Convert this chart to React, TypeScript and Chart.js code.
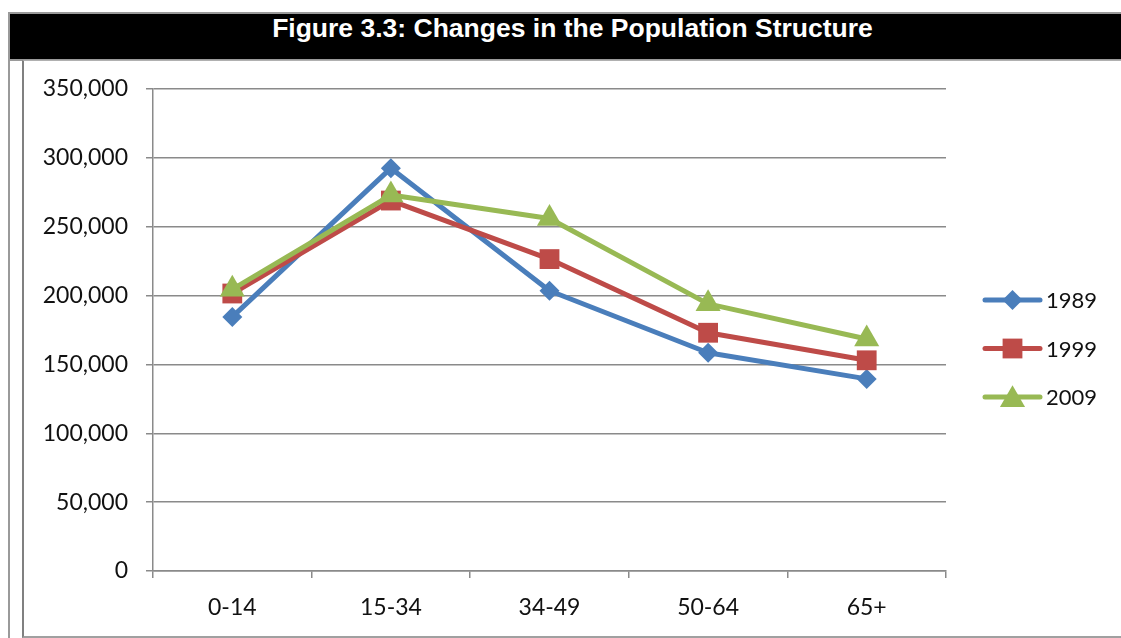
import React, { useEffect, useRef } from 'react';
import { Chart, registerables } from 'chart.js';

Chart.register(...registerables);

const titleText = 'Figure 3.3: Changes in the Population Structure';
const categories = ['0-14', '15-34', '34-49', '50-64', '65+'];
const seriesNames = ['1989', '1999', '2009'];
const values1989 = [184500, 292500, 203500, 158500, 139500];
const values1999 = [201500, 269000, 226500, 173000, 153000];
const values2009 = [204500, 273000, 256000, 194000, 168500];
const yMin = 0;
const yMax = 350000;
const yStep = 50000;

const colors = ['#4A7EBB', '#BE4B48', '#98B954'];
const pointStyles = ['rectRot', 'rect', 'triangle'];
const pointRadii = [10, 14, 14.5];

const FONT = 'Lato, "Open Sans", sans-serif';

function drawMarker(ctx: CanvasRenderingContext2D, style: string, x: number, y: number, r: number) {
  ctx.beginPath();
  if (style === 'rectRot') {
    ctx.moveTo(x, y - r);
    ctx.lineTo(x + r, y);
    ctx.lineTo(x, y + r);
    ctx.lineTo(x - r, y);
  } else if (style === 'rect') {
    const s = r * Math.SQRT1_2;
    ctx.rect(x - s, y - s, 2 * s, 2 * s);
  } else {
    const w = r * Math.sqrt(3) / 2;
    const h = 1.5 * r;
    ctx.moveTo(x, y - h / 2 - 1);
    ctx.lineTo(x + w, y + h / 2 - 1);
    ctx.lineTo(x - w, y + h / 2 - 1);
  }
  ctx.closePath();
  ctx.fill();
}

const legendPlugin = {
  id: 'customLegend',
  afterDraw(chart: any) {
    const { ctx, chartArea } = chart;
    ctx.save();
    chart.data.datasets.forEach((ds: any, i: number) => {
      const y = chartArea.top + 211 + i * 48.5;
      const x0 = chartArea.right + 39;
      const x1 = chartArea.right + 94;
      ctx.strokeStyle = ds.borderColor;
      ctx.fillStyle = ds.borderColor;
      ctx.lineWidth = 5;
      ctx.lineCap = 'round';
      ctx.beginPath();
      ctx.moveTo(x0, y);
      ctx.lineTo(x1, y);
      ctx.stroke();
      drawMarker(ctx, ds.pointStyle, (x0 + x1) / 2, y, ds.pointRadius);
      ctx.fillStyle = '#111';
      ctx.font = `22px ${FONT}`;
      ctx.textAlign = 'left';
      ctx.textBaseline = 'middle';
      ctx.fillText(ds.label, chartArea.right + 100, y + 1);
    });
    ctx.restore();
  },
};

function ChartCanvas() {
  const ref = useRef<HTMLCanvasElement | null>(null);
  useEffect(() => {
    if (!ref.current) return;
    const seriesValues = [values1989, values1999, values2009];
    const chart = new Chart(ref.current, {
      type: 'line',
      data: {
        labels: categories,
        datasets: seriesNames.map((name, i) => ({
          label: name,
          data: seriesValues[i],
          order: seriesNames.length - i,
          borderColor: colors[i],
          backgroundColor: colors[i],
          pointBackgroundColor: colors[i],
          pointBorderColor: colors[i],
          pointStyle: pointStyles[i] as any,
          pointRadius: pointRadii[i],
          pointBorderWidth: 0,
          borderWidth: 5,
          borderCapStyle: 'round',
          borderJoinStyle: 'round',
          tension: 0,
          fill: false,
        })),
      },
      options: {
        responsive: false,
        animation: false,
        layout: { padding: { top: 27, right: 175, left: 0, bottom: 0 } },
        plugins: {
          legend: { display: false },
          title: { display: false },
          tooltip: { enabled: false },
        },
        scales: {
          x: {
            offset: true,
            grid: {
              offset: true,
              drawOnChartArea: false,
              drawTicks: true,
              tickLength: 7,
              color: '#8a8a8a',
              lineWidth: 1.5,
            },
            border: { display: true, color: '#8a8a8a', width: 1.5 },
            ticks: {
              padding: 16,
              color: '#111',
              font: { family: FONT, size: 23 },
              maxRotation: 0,
            },
            afterFit: (scale: any) => {
              scale.height = 66;
            },
          },
          y: {
            min: yMin,
            max: yMax,
            grid: {
              drawTicks: true,
              tickLength: 7,
              color: '#8a8a8a',
              lineWidth: 1.5,
            },
            border: { display: true, color: '#8a8a8a', width: 1.5 },
            ticks: {
              stepSize: yStep,
              padding: 18,
              color: '#111',
              font: { family: FONT, size: 23 },
              callback: (v: any) => Number(v).toLocaleString('en-US'),
            },
            afterFit: (scale: any) => {
              scale.width = 129;
              scale.paddingTop = 10;
              scale.paddingBottom = 10;
            },
          },
        },
      },
      plugins: [legendPlugin],
    });
    return () => chart.destroy();
  }, []);
  return <canvas ref={ref} width={1097} height={575} style={{ width: 1097, height: 575, display: 'block' }} />;
}

export default function App() {
  return (
    <div style={{ position: 'absolute', left: 0, top: 0, width: 1121, height: 638, overflow: 'hidden', background: '#fff' }}>
      {/* outer frame */}
      <div style={{ position: 'absolute', left: 8, top: 12, width: 1200, height: 700, borderLeft: '2px solid #9a9a9a', borderTop: '2px solid #9a9a9a' }} />
      {/* black title bar */}
      <div style={{ position: 'absolute', left: 10, top: 14, width: 1125, height: 45, background: '#000', borderBottom: '2px solid #9a9a9a' }} />
      <div
        style={{
          position: 'absolute',
          left: 10,
          top: 15,
          width: 1125,
          textAlign: 'center',
          color: '#fff',
          fontFamily: '"Liberation Sans", Arial, sans-serif',
          fontWeight: 'bold',
          fontSize: 26.5,
          lineHeight: '26px',
          whiteSpace: 'nowrap',
        }}
      >
        {titleText}
      </div>
      {/* inner chart frame */}
      <div style={{ position: 'absolute', left: 22, top: 60, width: 1200, height: 575, borderLeft: '2px solid #808080', borderTop: '1px solid #b0b0b0', borderBottom: '2px solid #a0a0a0' }} />
      <div style={{ position: 'absolute', left: 24, top: 62 }}>
        <ChartCanvas />
      </div>
    </div>
  );
}
